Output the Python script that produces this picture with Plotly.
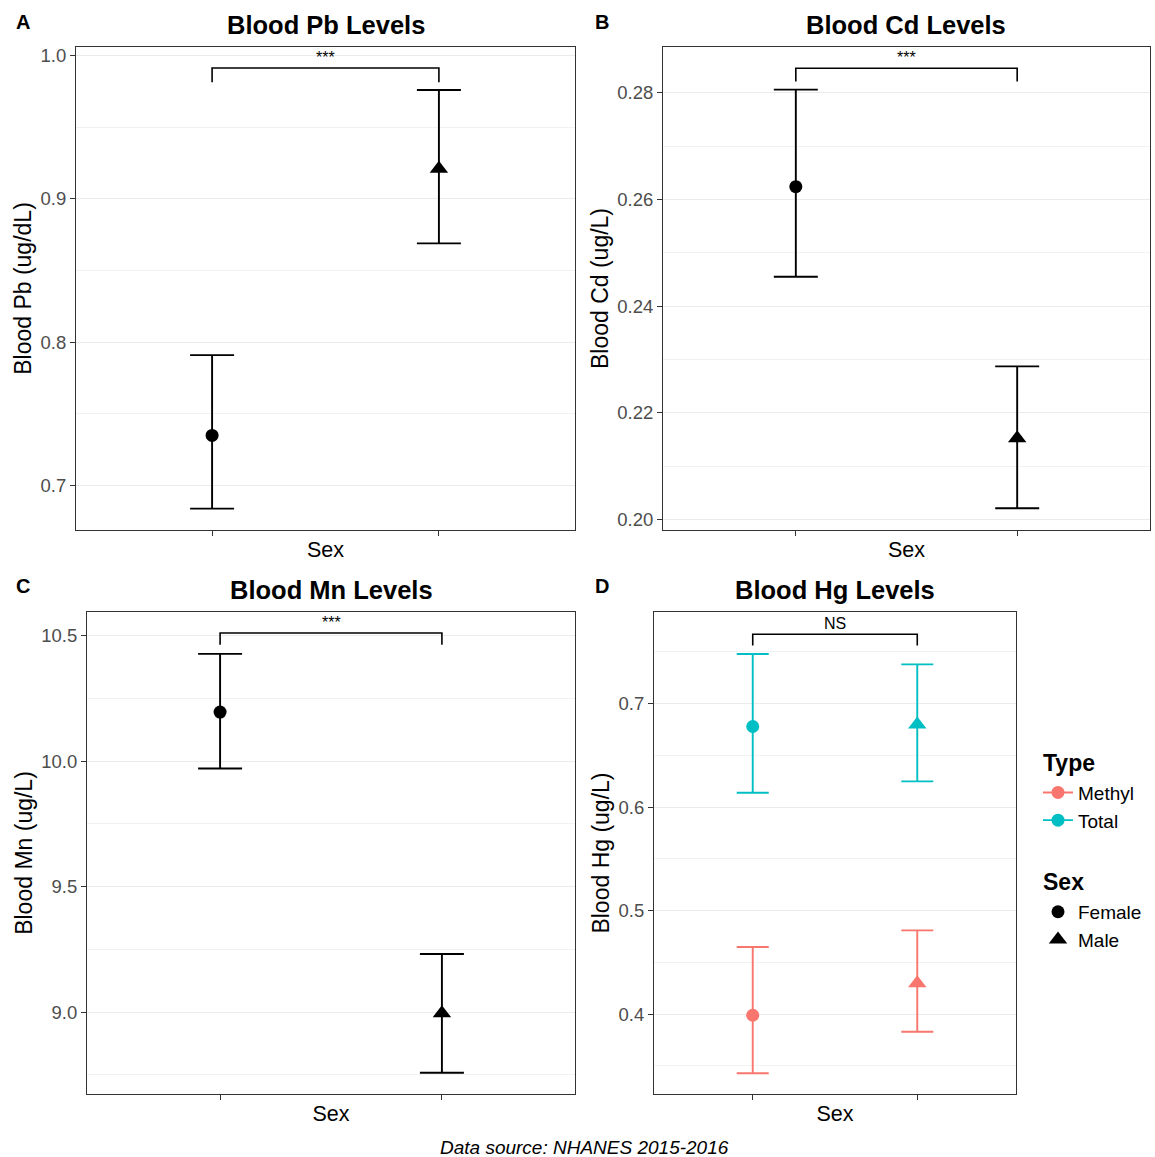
import plotly.graph_objects as go

FONT = "Liberation Sans, Arial, Helvetica, sans-serif"

# ---------------- data ----------------
sex = ["Female", "Male"]
x_pos = [1, 2]

pb_mean = [0.735, 0.921]
pb_lower = [0.684, 0.869]
pb_upper = [0.791, 0.976]

cd_mean = [0.2624, 0.2152]
cd_lower = [0.2455, 0.2021]
cd_upper = [0.2806, 0.2287]

mn_mean = [10.195, 8.995]
mn_lower = [9.970, 8.758]
mn_upper = [10.427, 9.231]

hg_types = ["Methyl", "Total"]
hg_methyl_mean = [0.399, 0.430]
hg_methyl_lower = [0.343, 0.383]
hg_methyl_upper = [0.465, 0.481]
hg_total_mean = [0.678, 0.680]
hg_total_lower = [0.614, 0.625]
hg_total_upper = [0.748, 0.738]

sig_labels = ["***", "***", "***", "NS"]
bracket_top = [0.9913, 0.2846, 10.510, 0.7671]
bracket_tip = [0.9813, 0.2821, 10.463, 0.7563]

panel_titles = ["Blood Pb Levels", "Blood Cd Levels", "Blood Mn Levels", "Blood Hg Levels"]
panel_letters = ["A", "B", "C", "D"]
y_titles = ["Blood Pb (ug/dL)", "Blood Cd (ug/L)", "Blood Mn (ug/L)", "Blood Hg (ug/L)"]
x_title = "Sex"
caption = "Data source: NHANES 2015-2016"

# ---------------- layout geometry ----------------
W, H = 1155, 1157
boxes = [(76, 575, 45, 529), (663, 1150, 45, 529), (87, 575, 611, 1094), (654, 1016, 611, 1094)]
y_ranges = [[0.669, 1.006], [0.198, 0.2886], [8.673, 10.594], [0.3228, 0.7887]]
y_tick = [(0, 0.1, 0.05, ".1f"), (0, 0.02, 0.01, ".2f"), (0, 0.5, 0.25, ".1f"), (0, 0.1, 0.05, ".1f")]
cap_w = [22, 22, 22, 16]

SYMBOLS = ["circle", "triangle-up"]
SIZES = [13, 16]
COL_METHYL = "#F8766D"
COL_TOTAL = "#00BFC4"

fig = go.Figure()


def add_points(i, means, lowers, uppers, color, name=None):
    xa = "x" if i == 0 else f"x{i+1}"
    ya = "y" if i == 0 else f"y{i+1}"
    for k in range(2):
        fig.add_trace(go.Scatter(
            x=[x_pos[k]], y=[means[k]], xaxis=xa, yaxis=ya, mode="markers",
            marker=dict(symbol=SYMBOLS[k], size=SIZES[k], color=color),
            error_y=dict(type="data", symmetric=False,
                         array=[uppers[k] - means[k]], arrayminus=[means[k] - lowers[k]],
                         color=color, thickness=1.9, width=cap_w[i]),
            showlegend=False, name=f"{name or ''} {sex[k]}", hoverinfo="y"))


def add_bracket(i):
    xa = "x" if i == 0 else f"x{i+1}"
    ya = "y" if i == 0 else f"y{i+1}"
    fig.add_trace(go.Scatter(
        x=[x_pos[0], x_pos[0], x_pos[1], x_pos[1]],
        y=[bracket_tip[i], bracket_top[i], bracket_top[i], bracket_tip[i]],
        xaxis=xa, yaxis=ya, mode="lines", line=dict(color="black", width=1.6),
        showlegend=False, hoverinfo="skip"))
    fig.add_annotation(x=(x_pos[0] + x_pos[1]) / 2, y=bracket_top[i], xref=xa, yref=ya,
                       text=sig_labels[i], showarrow=False, yanchor="bottom",
                       font=dict(size=16, color="black", family=FONT))


add_points(0, pb_mean, pb_lower, pb_upper, "black")
add_points(1, cd_mean, cd_lower, cd_upper, "black")
add_points(2, mn_mean, mn_lower, mn_upper, "black")
add_points(3, hg_methyl_mean, hg_methyl_lower, hg_methyl_upper, COL_METHYL, "Methyl")
add_points(3, hg_total_mean, hg_total_lower, hg_total_upper, COL_TOTAL, "Total")
for i in range(4):
    add_bracket(i)

# legend entries
for t, c in zip(hg_types, [COL_METHYL, COL_TOTAL]):
    fig.add_trace(go.Scatter(x=[None], y=[None], xaxis="x4", yaxis="y4", mode="lines+markers",
                             name=t, line=dict(color=c, width=1.9),
                             marker=dict(symbol="circle", size=13, color=c),
                             legendgroup="type", legendgrouptitle=dict(text="<b>Type</b>")))
for k in range(2):
    fig.add_trace(go.Scatter(x=[None], y=[None], xaxis="x4", yaxis="y4", mode="markers",
                             name=sex[k], marker=dict(symbol=SYMBOLS[k], size=SIZES[k], color="black"),
                             legendgroup="sex", legendgrouptitle=dict(text="<b>Sex</b>")))

layout = dict(
    width=W, height=H, autosize=False,
    margin=dict(l=0, r=0, t=0, b=0),
    paper_bgcolor="white", plot_bgcolor="white",
    font=dict(family=FONT, color="black"),
    legend=dict(x=1038 / W, y=1 - 740 / H, xanchor="left", yanchor="top",
                font=dict(size=19, family=FONT, color="black"),
                grouptitlefont=dict(size=23, family=FONT, color="black"),
                tracegroupgap=31, bgcolor="rgba(0,0,0,0)"),
)

annotations = []
for i, (l, r, t, b) in enumerate(boxes):
    sfx = "" if i == 0 else str(i + 1)
    t0, dt, mdt, fmt = y_tick[i]
    layout["xaxis" + sfx] = dict(
        domain=[l / W, r / W], anchor="y" + sfx, range=[0.4, 2.6],
        tickmode="array", tickvals=x_pos, ticktext=["", ""],
        ticks="outside", ticklen=5, tickwidth=1, tickcolor="#333333",
        showgrid=False, zeroline=False, showline=True, mirror=True,
        linecolor="#333333", linewidth=1,
        title=dict(text=x_title, font=dict(size=21.5, family=FONT, color="black"), standoff=4))
    layout["yaxis" + sfx] = dict(
        domain=[1 - b / H, 1 - t / H], anchor="x" + sfx, range=y_ranges[i],
        tickmode="linear", tick0=t0, dtick=dt, tickformat=fmt,
        ticks="outside", ticklen=5, tickwidth=1, tickcolor="#333333",
        tickfont=dict(size=18.5, family=FONT, color="#4D4D4D"),
        showgrid=True, gridcolor="#EBEBEB", gridwidth=1.4,
        minor=dict(tickmode="linear", tick0=t0, dtick=mdt, showgrid=True,
                   gridcolor="#F2F2F2", gridwidth=0.9, ticks=""),
        zeroline=False, showline=True, mirror=True, linecolor="#333333", linewidth=1,
        title=dict(text=y_titles[i], font=dict(size=23, family=FONT, color="black"), standoff=2))
    annotations.append(dict(x=(l + r) / 2 / W, y=1 - (t - 22) / H, xref="paper", yref="paper",
                            text=f"<b>{panel_titles[i]}</b>", showarrow=False,
                            xanchor="center", yanchor="middle",
                            font=dict(size=25.5, family=FONT, color="black")))

letter_pos = [(14, 20), (593, 20), (14, 585), (593, 585)]
for i, (lx, ly) in enumerate(letter_pos):
    annotations.append(dict(x=lx / W, y=1 - ly / H, xref="paper", yref="paper",
                            text=f"<b>{panel_letters[i]}</b>", showarrow=False,
                            xanchor="left", yanchor="middle",
                            font=dict(size=20, family=FONT, color="black")))

annotations.append(dict(x=585 / W, y=1 - 1147 / H, xref="paper", yref="paper",
                        text=f"<i>{caption}</i>", showarrow=False,
                        xanchor="center", yanchor="middle",
                        font=dict(size=19, family=FONT, color="black")))

fig.update_layout(**layout)
for a in annotations:
    fig.add_annotation(**a)

fig.write_html("out.html", config={"displayModeBar": False},
               post_script="document.body.style.margin='0px';document.body.style.overflow='hidden';")
